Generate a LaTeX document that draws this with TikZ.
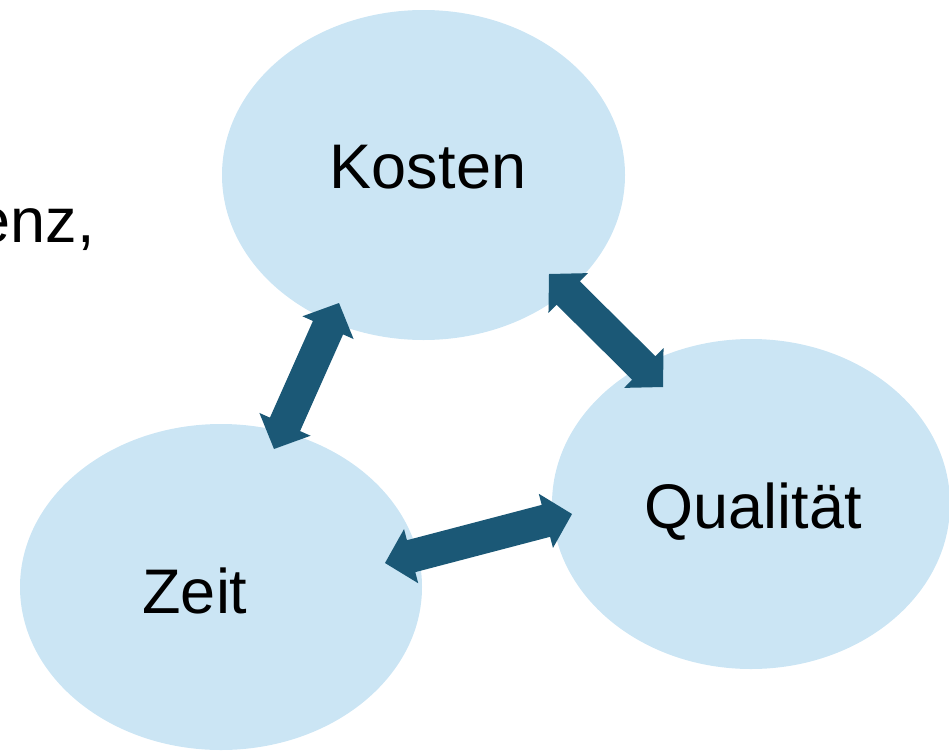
\documentclass[tikz,border=0pt]{standalone}
\usepackage{fontspec}
\setmainfont{Liberation Sans}
\usetikzlibrary{shapes.geometric,calc}
\definecolor{ellfill}{HTML}{CBE5F4}
\definecolor{arrowcol}{HTML}{1B5876}
\tikzset{
  blob/.style={ellipse, fill=ellfill, draw=none, inner sep=0pt},
  lbl/.style={font=\fontsize{63}{75}\selectfont, anchor=base, inner sep=0pt, text=black},
}
\newcommand\blockarr[2]{%
  \path ($(#1)!27pt!(#2)$) coordinate (h1) ($(#2)!27pt!(#1)$) coordinate (h2);
  \fill[arrowcol] (#1) -- ($(h1)!28pt!90:(#2)$) -- ($(h1)!16.5pt!90:(#2)$)
    -- ($(h2)!16.5pt!-90:(#1)$) -- ($(h2)!28pt!-90:(#1)$) -- (#2)
    -- ($(h2)!28pt!90:(#1)$) -- ($(h2)!16.5pt!90:(#1)$)
    -- ($(h1)!16.5pt!-90:(#2)$) -- ($(h1)!28pt!-90:(#2)$) -- cycle;}
\begin{document}
\begin{tikzpicture}[x=1pt,y=-1pt]
\useasboundingbox (0,0) rectangle (949,750);
\node[blob, minimum width=403pt, minimum height=330pt] (kosten) at (423.5,175) {};
\node[blob, minimum width=398pt, minimum height=330pt] (qual) at (751,504) {};
\node[blob, minimum width=402pt, minimum height=326pt] (zeit) at (221,587) {};
\node[lbl] (tk) at (428,188) {Kosten};
\node[lbl] (tq) at (753,528) {Qualität};
\node[lbl] (tz) at (195,613) {Zeit};
\node[lbl, anchor=base east] (tenz) at (95,242) {enz,};
\coordinate (a1) at (339,303);
\coordinate (a2) at (274,449);
\coordinate (b1) at (549,274);
\coordinate (b2) at (663,387);
\coordinate (c1) at (385,563);
\coordinate (c2) at (572,514);
\blockarr{a1}{a2}
\blockarr{b1}{b2}
\blockarr{c1}{c2}
\end{tikzpicture}
\end{document}
